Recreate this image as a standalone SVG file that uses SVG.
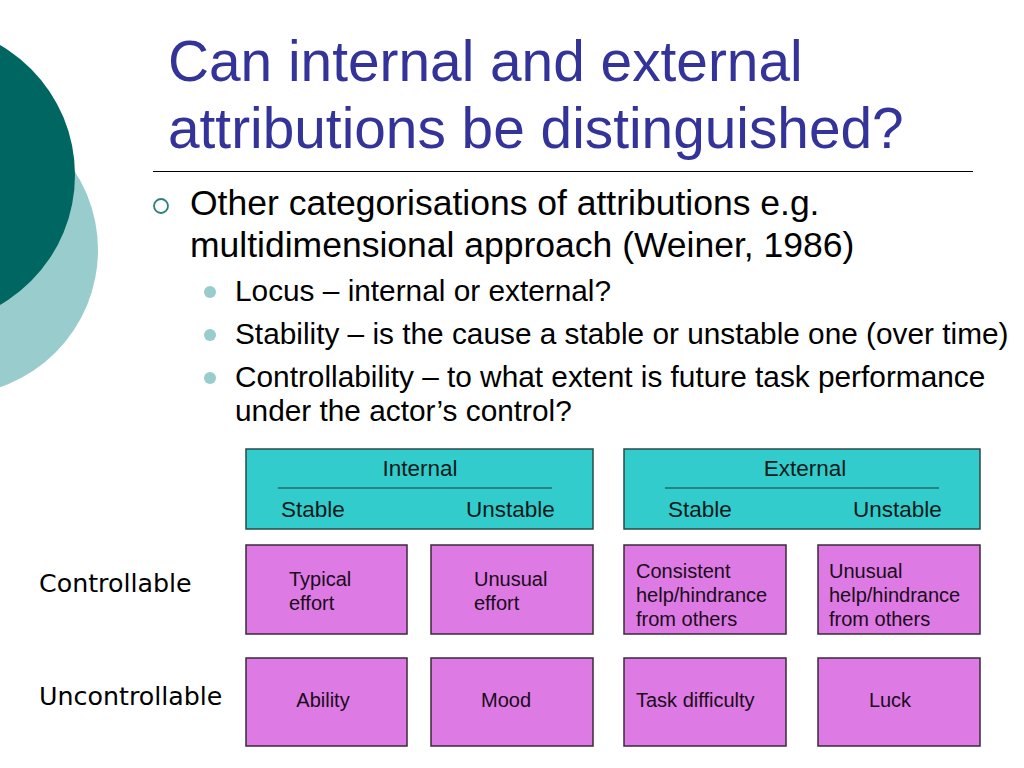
<svg xmlns="http://www.w3.org/2000/svg" width="1024" height="768" viewBox="0 0 1024 768">
<style>
.title{font-family:"Liberation Sans",Arial,sans-serif;font-size:56.8px;fill:#333399}
.b1{font-family:"Liberation Sans",Arial,sans-serif;font-size:35.5px;fill:#000}
.b2{font-family:"Liberation Sans",Arial,sans-serif;font-size:29.8px;fill:#000}
.row{font-family:"DejaVu Sans",Verdana,sans-serif;font-size:25.3px;fill:#000}
.hdr{fill:#33CCCC;stroke:#2a4a4a;stroke-width:1.5}
.cell{fill:#DD7AE3;stroke:#3a2a3a;stroke-width:1.5}
.t{font-family:"Liberation Sans",Arial,sans-serif;font-size:20px;fill:#1a0a1a}
.th{font-family:"Liberation Sans",Arial,sans-serif;font-size:22.5px;fill:#0a1a1a}
.dot{fill:#99CCCC}
</style>
<rect width="1024" height="768" fill="#fff"/>
<g id="decor">
<circle cx="-47" cy="250" r="145" fill="#99CCCC"/>
<circle cx="-75" cy="175" r="150" fill="#006661"/>
</g>
<g id="title">
<text class="title" x="168" y="81">Can internal and external</text>
<text class="title" x="168" y="148">attributions be distinguished?</text>
<line x1="153" y1="171.5" x2="973" y2="171.5" stroke="#000" stroke-width="1"/>
</g>
<g id="bullets">
<circle cx="161" cy="206" r="7" fill="none" stroke="#2E7F7B" stroke-width="1.8"/>
<text class="b1" x="190" y="215">Other categorisations of attributions e.g.</text>
<text class="b1" x="190" y="257">multidimensional approach (Weiner, 1986)</text>
<circle class="dot" cx="210" cy="292" r="6"/>
<text class="b2" x="235" y="301">Locus – internal or external?</text>
<circle class="dot" cx="210" cy="335" r="6"/>
<text class="b2" x="235" y="344">Stability – is the cause a stable or unstable one (over time)</text>
<circle class="dot" cx="210" cy="378" r="6"/>
<text class="b2" x="235" y="387">Controllability – to what extent is future task performance</text>
<text class="b2" x="235" y="421">under the actor’s control?</text>
</g>
<g id="row-labels">
<text class="row" x="39" y="592">Controllable</text>
<text class="row" x="39" y="705">Uncontrollable</text>
</g>
<g id="internal">
<rect class="hdr" x="246" y="449" width="347" height="80"/>
<text class="th" x="420" y="476" text-anchor="middle">Internal</text>
<line x1="278" y1="488" x2="552" y2="488" stroke="#1a3a3a" stroke-width="1.2"/>
<text class="th" x="281" y="517">Stable</text>
<text class="th" x="466" y="517">Unstable</text>
</g>
<g id="external">
<rect class="hdr" x="624" y="449" width="356" height="80"/>
<text class="th" x="805" y="476" text-anchor="middle">External</text>
<line x1="665" y1="488" x2="939" y2="488" stroke="#1a3a3a" stroke-width="1.2"/>
<text class="th" x="668" y="517">Stable</text>
<text class="th" x="853" y="517">Unstable</text>
</g>
<g id="typical-effort">
<rect class="cell" x="246" y="545" width="161" height="89"/>
<text class="t" x="289" y="586">Typical</text>
<text class="t" x="289" y="610">effort</text>
</g>
<g id="unusual-effort">
<rect class="cell" x="431" y="545" width="162" height="89"/>
<text class="t" x="474" y="586">Unusual</text>
<text class="t" x="474" y="610">effort</text>
</g>
<g id="consistent-help">
<rect class="cell" x="624" y="545" width="162" height="89"/>
<text class="t" x="636" y="578">Consistent</text>
<text class="t" x="636" y="602">help/hindrance</text>
<text class="t" x="636" y="626">from others</text>
</g>
<g id="unusual-help">
<rect class="cell" x="818" y="545" width="162" height="89"/>
<text class="t" x="829" y="578">Unusual</text>
<text class="t" x="829" y="602">help/hindrance</text>
<text class="t" x="829" y="626">from others</text>
</g>
<g id="ability">
<rect class="cell" x="246" y="658" width="161" height="88"/>
<text class="t" x="323" y="707" text-anchor="middle">Ability</text>
</g>
<g id="mood">
<rect class="cell" x="431" y="658" width="162" height="88"/>
<text class="t" x="506" y="707" text-anchor="middle">Mood</text>
</g>
<g id="task-difficulty">
<rect class="cell" x="624" y="658" width="162" height="88"/>
<text class="t" x="636" y="707">Task difficulty</text>
</g>
<g id="luck">
<rect class="cell" x="818" y="658" width="162" height="88"/>
<text class="t" x="890" y="707" text-anchor="middle">Luck</text>
</g>
<g id="connectors"></g>
</svg>
